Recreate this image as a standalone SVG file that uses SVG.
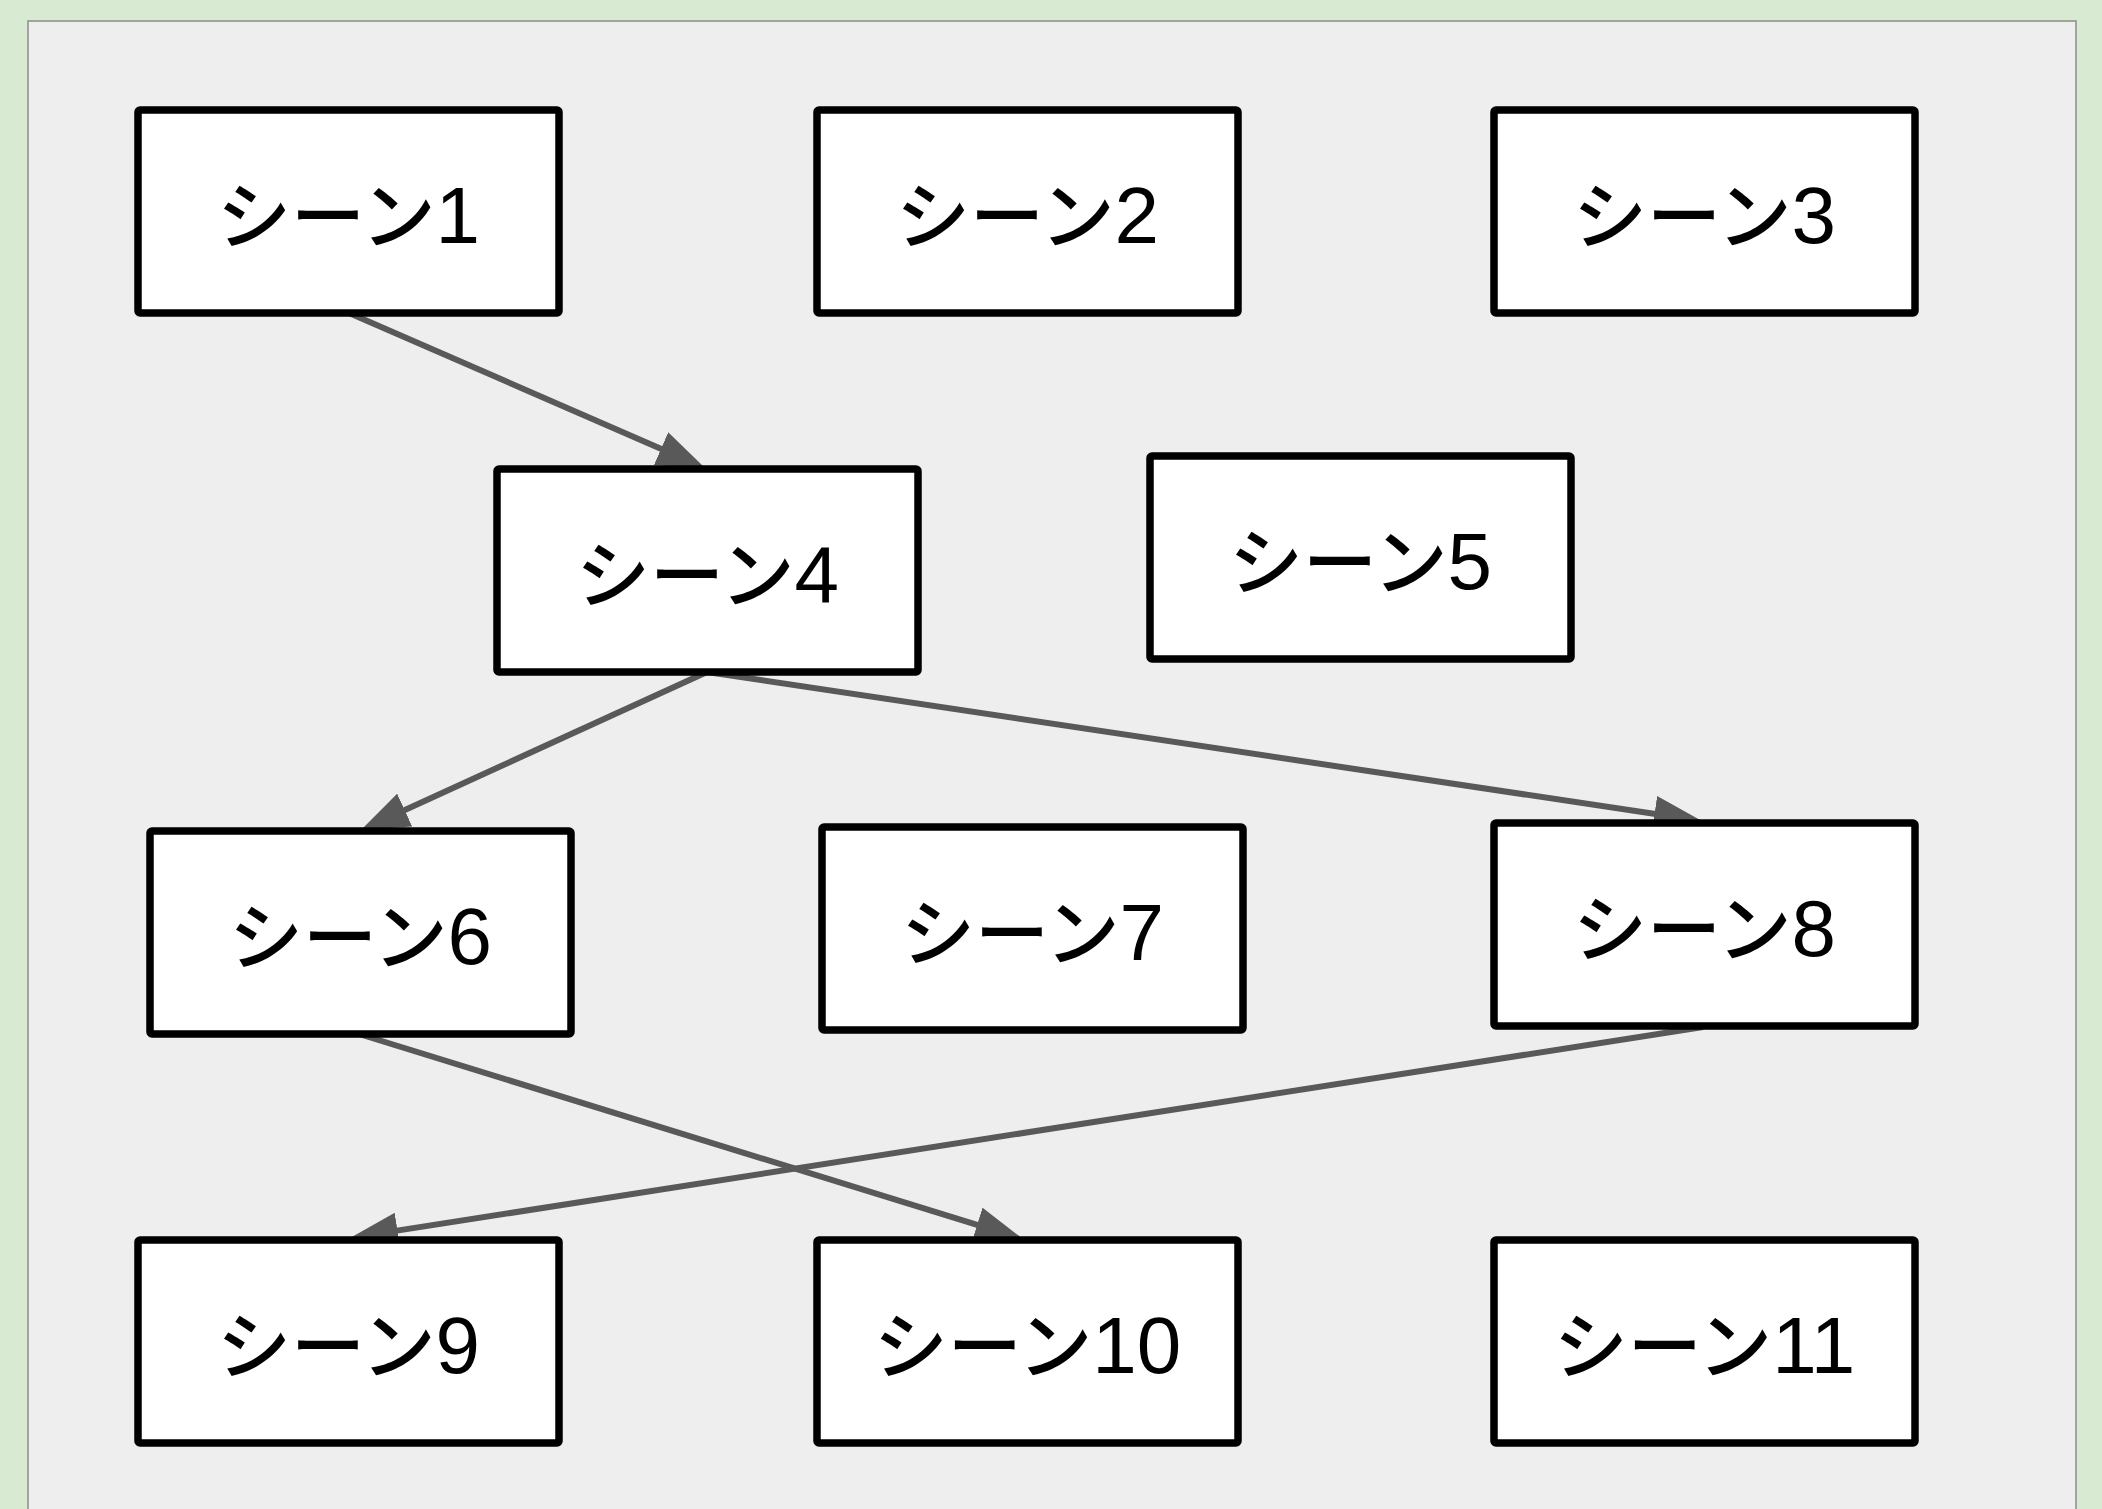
<svg xmlns="http://www.w3.org/2000/svg" width="2102" height="1509" viewBox="0 0 2102 1509">
<defs>
<style>
.node rect{fill:#ffffff;stroke:#000000;stroke-width:7.5;}
.node text{font-family:"Liberation Sans","Noto Sans CJK JP",sans-serif;font-size:80px;fill:#000000;text-anchor:middle;}
.kana{font-family:"Noto Sans CJK JP",sans-serif;font-size:74px;font-weight:500;}
.edge{fill:none;stroke:#595959;stroke-width:6;marker-end:url(#arrow);}
</style>
<marker id="arrow" markerUnits="userSpaceOnUse" viewBox="0 0 48 36" markerWidth="48" markerHeight="36" refX="28" refY="18" orient="auto">
<path d="M0,0 L48,18 L0,36 z" fill="#595959"/>
</marker>
</defs>
<rect x="0" y="0" width="2102" height="1509" fill="#d9ead3"/>
<rect x="28" y="21" width="2048" height="1500" fill="#eeeeee" stroke="#8c8c8c" stroke-width="1.5"/>
<g id="connectors">
<path class="edge" d="M349,313 L686.7,460"/>
<path class="edge" d="M707,672 L379.2,821.7"/>
<path class="edge" d="M707,672 L1682.2,818"/>
<path class="edge" d="M359,1034 L1003.9,1233.1"/>
<path class="edge" d="M1703,1027 L369.8,1234.9"/>
</g>
<g id="node1" class="node"><rect x="138" y="110" width="421" height="203" rx="2"/><text x="348.5" y="243"><tspan class="kana">シーン</tspan>1</text></g>
<g id="node2" class="node"><rect x="817" y="110" width="421" height="203" rx="2"/><text x="1027.5" y="243"><tspan class="kana">シーン</tspan>2</text></g>
<g id="node3" class="node"><rect x="1494" y="110" width="421" height="203" rx="2"/><text x="1704.5" y="243"><tspan class="kana">シーン</tspan>3</text></g>
<g id="node4" class="node"><rect x="497" y="469" width="421" height="203" rx="2"/><text x="707.5" y="602"><tspan class="kana">シーン</tspan>4</text></g>
<g id="node5" class="node"><rect x="1150" y="456" width="421" height="203" rx="2"/><text x="1360.5" y="589"><tspan class="kana">シーン</tspan>5</text></g>
<g id="node6" class="node"><rect x="150" y="831" width="421" height="203" rx="2"/><text x="360.5" y="964"><tspan class="kana">シーン</tspan>6</text></g>
<g id="node7" class="node"><rect x="822" y="827" width="421" height="203" rx="2"/><text x="1032.5" y="960"><tspan class="kana">シーン</tspan>7</text></g>
<g id="node8" class="node"><rect x="1494" y="823" width="421" height="203" rx="2"/><text x="1704.5" y="956"><tspan class="kana">シーン</tspan>8</text></g>
<g id="node9" class="node"><rect x="138" y="1240" width="421" height="203" rx="2"/><text x="348.5" y="1373"><tspan class="kana">シーン</tspan>9</text></g>
<g id="node10" class="node"><rect x="817" y="1240" width="421" height="203" rx="2"/><text x="1027.5" y="1373"><tspan class="kana">シーン</tspan>10</text></g>
<g id="node11" class="node"><rect x="1494" y="1240" width="421" height="203" rx="2"/><text x="1704.5" y="1373"><tspan class="kana">シーン</tspan>11</text></g>
</svg>
